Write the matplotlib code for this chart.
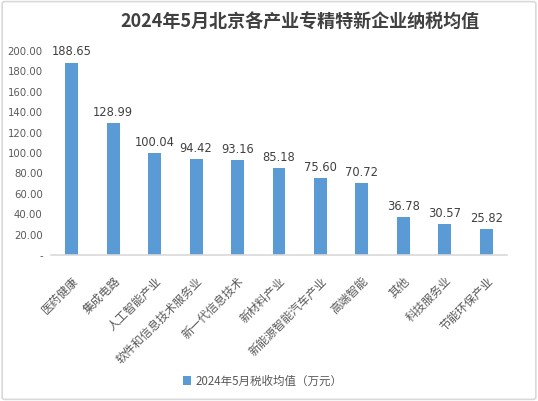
import matplotlib as mpl
mpl.use('Agg')
import matplotlib.pyplot as plt
import matplotlib.transforms as mtransforms
from matplotlib.patches import FancyBboxPatch

plt.rcParams['font.family'] = ['Noto Sans CJK SC', 'DejaVu Sans']

categories = ['医药健康', '集成电路', '人工智能产业', '软件和信息技术服务业', '新一代信息技术',
              '新材料产业', '新能源智能汽车产业', '高端智能', '其他', '科技服务业', '节能环保产业']
values = [188.65, 128.99, 100.04, 94.42, 93.16, 85.18, 75.60, 70.72, 36.78, 30.57, 25.82]
yticks = [0, 20, 40, 60, 80, 100, 120, 140, 160, 180, 200]
series_name = '2024年5月税收均值（万元）'
title = '2024年5月北京各产业专精特新企业纳税均值'

bar_color = '#5B9BD5'
text_color = '#595959'

fig = plt.figure(figsize=(5.38, 4.01), dpi=100)
ax = fig.add_axes([51/538, 1-255/401, 456/538, 204/401])

x = range(len(categories))
bars = ax.bar(x, values, width=0.31, color=bar_color, label=series_name, zorder=2)
for xi, v in zip(x, values):
    ax.text(xi, v + 4, '%.2f' % v, ha='center', va='bottom', fontsize=8.3,
            color='#404040', family=['DejaVu Sans'])

ax.set_xlim(-0.5, len(categories) - 0.5)
ax.set_ylim(0, 200)
ax.set_yticks(yticks)
ax.set_yticklabels(['-' if t == 0 else '%.2f' % t for t in yticks],
                   fontsize=7.3, color=text_color, family=['DejaVu Sans'])
ax.set_xticks(list(x))
ax.set_xticklabels(categories, rotation=45, ha='right', va='top', rotation_mode='anchor',
                   fontsize=8.4, color=text_color)
# long labels sit a little to the right, like the office chart does
for lab in ax.get_xticklabels():
    dx = 1.6 * (len(lab.get_text()) - 2) / 72.
    lab.set_transform(lab.get_transform() + mtransforms.ScaledTranslation(dx, 0, fig.dpi_scale_trans))
ax.tick_params(axis='both', length=0)
ax.tick_params(axis='x', pad=14)
ax.tick_params(axis='y', pad=6)
for s in ['top', 'right', 'left']:
    ax.spines[s].set_visible(False)
ax.spines['bottom'].set_color('#D9D9D9')
ax.spines['bottom'].set_linewidth(1.2)

fig.text(300/538, 1-22/401, title, ha='center', va='center', fontsize=13,
         fontweight='bold', color='#404040')

leg = fig.legend(loc='center', bbox_to_anchor=(263/538, 1-381/401), frameon=False,
                 fontsize=8.3, handlelength=0.7, handleheight=0.7, handletextpad=0.4)
for t in leg.get_texts():
    t.set_color(text_color)

border = FancyBboxPatch((0.004, 0.004), 0.992, 0.992, boxstyle='round,pad=0,rounding_size=0.005',
                        transform=fig.transFigure, fill=False, edgecolor='#D9D9D9', linewidth=1.2)
fig.patches.append(border)

fig.savefig('out.png', dpi=100)
